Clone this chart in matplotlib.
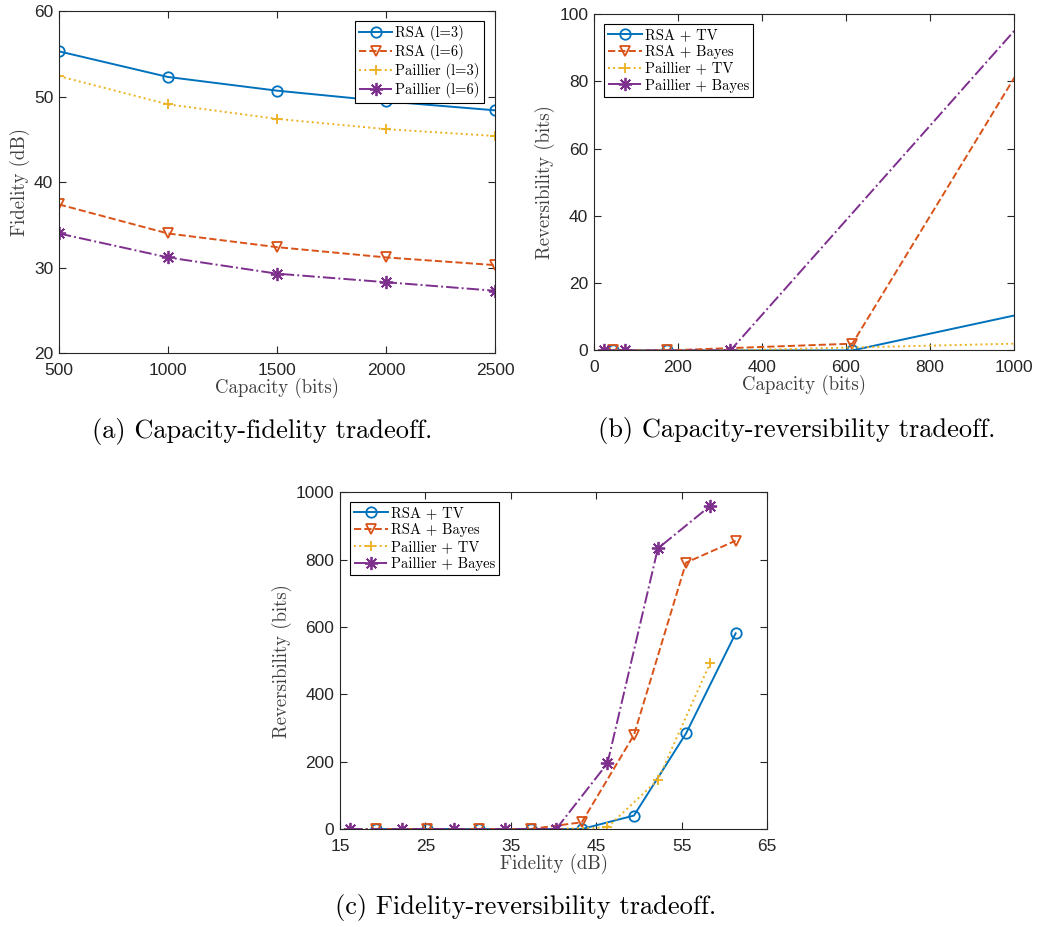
import matplotlib
matplotlib.use('Agg')
import matplotlib.pyplot as plt

# (a) capacity vs fidelity
cap_a = [500, 1000, 1500, 2000, 2500]
rsa_l3 = [55.3, 52.3, 50.7, 49.45, 48.4]
rsa_l6 = [37.4, 34.0, 32.4, 31.2, 30.3]
pai_l3 = [52.4, 49.1, 47.4, 46.2, 45.4]
pai_l6 = [34.0, 31.2, 29.3, 28.3, 27.3]

# (b) capacity vs reversibility
cap_rsa_b = [45, 175, 615, 2100]
rsa_tv_b = [0, 0, 0, 40]
cap_rsa_bayes_b = [45, 175, 615, 1970]
rsa_bayes_b = [0, 0, 2, 280]
cap_pai_b = [25, 75, 325, 2010]
pai_tv_b = [0, 0, 0, 5]
cap_pai_bayes_b = [25, 75, 325, 1690]
pai_bayes_b = [0, 0, 0, 192]

# (c) fidelity vs reversibility
fid_rsa = [19.2, 25.2, 31.3, 37.3, 43.3, 49.4, 55.5, 61.3]
rsa_tv_c = [0, 0, 0, 0, 0, 40, 284, 581]
rsa_bayes_c = [0, 0, 0, 0, 20, 279, 791, 856]
fid_pai = [16.2, 22.3, 28.4, 34.3, 40.3, 46.3, 52.2, 58.3]
pai_tv_c = [0, 0, 0, 0, 0, 5, 146, 492]
pai_bayes_c = [0, 0, 0, 0, 0, 195, 833, 959]

blue = '#0072BD'
orange = '#D95319'
yellow = '#EDB120'
purple = '#7E2F8E'
asterisk = (8, 2, 0)

serif = 'cmr10'
tickfont = 'Liberation Sans'
edge = '#262626'

plt.rcParams['axes.unicode_minus'] = False

fig = plt.figure(figsize=(10.51, 9.27), dpi=100)
ax_a = fig.add_axes([0.056, 0.619, 0.415, 0.369])
ax_b = fig.add_axes([0.565, 0.622, 0.400, 0.363])
ax_c = fig.add_axes([0.3235, 0.1057, 0.4065, 0.3633])

mk = dict(markersize=7.5, markerfacecolor='none', markeredgewidth=1.3, linewidth=1.4)
mk_star = dict(mk, markersize=9.5)


def style(ax):
    ax.tick_params(direction='in', top=True, right=True, length=5, width=0.8,
                   labelsize=12.5, colors=edge)
    ax.tick_params(axis='x', pad=7)
    ax.tick_params(axis='y', pad=4)
    for lbl in ax.get_xticklabels() + ax.get_yticklabels():
        lbl.set_fontfamily(tickfont)
    for s in ax.spines.values():
        s.set_color(edge)
        s.set_linewidth(0.8)


def legend(ax, loc, anchor):
    leg = ax.legend(loc=loc, bbox_to_anchor=anchor, borderaxespad=0, fancybox=False,
                    framealpha=1, edgecolor='black', prop={'family': serif, 'size': 10.5},
                    handlelength=2.3, handletextpad=0.2, borderpad=0.3, labelspacing=0.2)
    leg.get_frame().set_linewidth(0.8)


ax_a.plot(cap_a, rsa_l3, '-', color=blue, marker='o', label='RSA (l=3)', **mk)
ax_a.plot(cap_a, rsa_l6, '--', color=orange, marker='v', label='RSA (l=6)', **mk)
ax_a.plot(cap_a, pai_l3, ':', color=yellow, marker='+', label='Paillier (l=3)', **mk)
ax_a.plot(cap_a, pai_l6, '-.', color=purple, marker=asterisk, label='Paillier (l=6)', **mk_star)
ax_a.set_xlim(500, 2500)
ax_a.set_ylim(20, 60)
ax_a.set_xticks([500, 1000, 1500, 2000, 2500])
ax_a.set_yticks([20, 30, 40, 50, 60])
ax_a.set_xlabel('Capacity (bits)', family=serif, fontsize=13.5, color='#404040', labelpad=0)
ax_a.set_ylabel('Fidelity (dB)', family=serif, fontsize=13.5, color='#404040', labelpad=3)
style(ax_a)
legend(ax_a, 'upper right', (0.975, 0.971))

ax_b.plot(cap_rsa_b, rsa_tv_b, '-', color=blue, marker='o', label='RSA + TV', **mk)
ax_b.plot(cap_rsa_bayes_b, rsa_bayes_b, '--', color=orange, marker='v', label='RSA + Bayes', **mk)
ax_b.plot(cap_pai_b, pai_tv_b, ':', color=yellow, marker='+', label='Paillier + TV', **mk)
ax_b.plot(cap_pai_bayes_b, pai_bayes_b, '-.', color=purple, marker=asterisk, label='Paillier + Bayes', **mk_star)
ax_b.set_xlim(0, 1000)
ax_b.set_ylim(0, 100)
ax_b.set_xticks([0, 200, 400, 600, 800, 1000])
ax_b.set_yticks([0, 20, 40, 60, 80, 100])
ax_b.set_xlabel('Capacity (bits)', family=serif, fontsize=13.5, color='#404040', labelpad=0)
ax_b.set_ylabel('Reversibility (bits)', family=serif, fontsize=13.5, color='#404040', labelpad=3)
style(ax_b)
legend(ax_b, 'upper left', (0.024, 0.970))

ax_c.plot(fid_rsa, rsa_tv_c, '-', color=blue, marker='o', label='RSA + TV', **mk)
ax_c.plot(fid_rsa, rsa_bayes_c, '--', color=orange, marker='v', label='RSA + Bayes', **mk)
ax_c.plot(fid_pai, pai_tv_c, ':', color=yellow, marker='+', label='Paillier + TV', **mk)
ax_c.plot(fid_pai, pai_bayes_c, '-.', color=purple, marker=asterisk, label='Paillier + Bayes', **mk_star)
ax_c.set_xlim(15, 65)
ax_c.set_ylim(0, 1000)
ax_c.set_xticks([15, 25, 35, 45, 55, 65])
ax_c.set_yticks([0, 200, 400, 600, 800, 1000])
ax_c.set_xlabel('Fidelity (dB)', family=serif, fontsize=13.5, color='#404040', labelpad=0)
ax_c.set_ylabel('Reversibility (bits)', family=serif, fontsize=13.5, color='#404040', labelpad=3)
style(ax_c)
legend(ax_c, 'upper left', (0.023, 0.970))

fig.text(0.249, 0.534, '(a) Capacity-fidelity tradeoff.', family=serif, fontsize=19,
         ha='center', va='center')
fig.text(0.758, 0.536, '(b) Capacity-reversibility tradeoff.', family=serif, fontsize=19,
         ha='center', va='center')
fig.text(0.5005, 0.021, '(c) Fidelity-reversibility tradeoff.', family=serif, fontsize=19,
         ha='center', va='center')

fig.savefig('out.png', dpi=100)
